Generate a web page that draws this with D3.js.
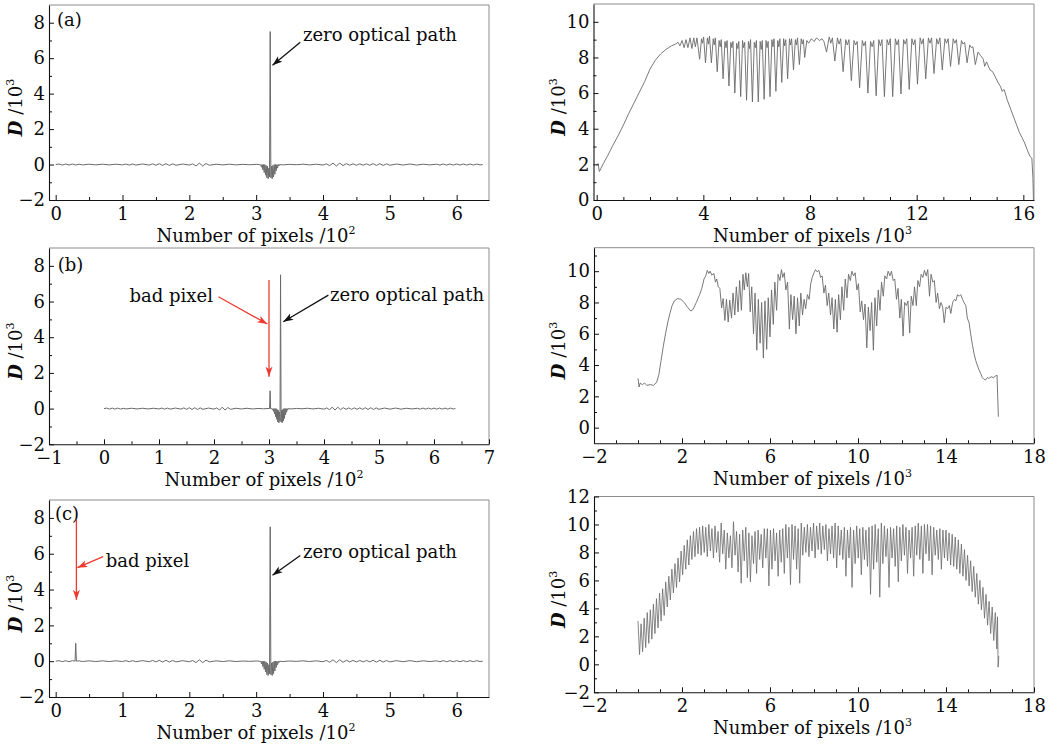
<!DOCTYPE html>
<html><head><meta charset="utf-8">
<script src="https://cdn.jsdelivr.net/npm/d3@7"></script>
<style>
body{margin:0;background:#fff}
svg{display:block}
text{font-family:"DejaVu Serif",serif;fill:#0a0a0a}
</style>
</head><body><svg id="chart" width="1061" height="744"></svg>
<script>
// ---------------- DATA ----------------
// Interferogram (x: Number of pixels /10^2, y: D /10^3)
const interferogram = [
[0.00,0.00],[0.05,0.03],[0.10,-0.03],[0.15,0.03],[0.20,-0.03],[0.25,0.03],[0.30,-0.03],[0.35,0.02],[0.40,-0.02],[0.50,0.02],
[0.60,-0.02],[0.70,0.02],[0.80,-0.02],[0.90,0.02],[1.00,-0.02],[1.05,0.03],[1.10,-0.03],[1.15,0.03],[1.20,-0.03],[1.30,0.03],
[1.40,-0.03],[1.45,0.04],[1.50,-0.04],[1.55,0.05],[1.60,-0.05],[1.65,0.05],[1.70,-0.05],[1.75,0.04],[1.80,-0.04],[1.90,0.03],
[2.00,-0.03],[2.05,0.04],[2.10,-0.08],[2.15,0.08],[2.20,-0.08],[2.25,0.06],[2.30,-0.04],[2.40,0.02],[2.50,-0.02],[2.60,0.02],
[2.70,-0.02],[2.80,0.01],[2.90,-0.01],[3.00,0.01],[3.05,0.00],[3.06,-0.05],[3.07,0.00],[3.08,-0.15],[3.09,0.00],[3.10,-0.30],
[3.11,0.00],[3.12,-0.45],[3.13,0.00],[3.14,-0.60],[3.15,-0.05],[3.16,-0.75],[3.17,-0.10],[3.18,-0.80],[3.19,-0.20],[3.20,-0.70],
[3.21,7.50],[3.22,-0.75],[3.23,-0.10],[3.24,-0.80],[3.25,-0.05],[3.26,-0.70],[3.27,0.00],[3.28,-0.55],[3.29,0.00],[3.30,-0.35],
[3.31,0.00],[3.32,-0.20],[3.33,0.00],[3.34,-0.08],[3.35,0.00],[3.40,-0.02],[3.50,0.01],[3.60,-0.01],[3.70,0.02],[3.80,-0.02],
[3.90,0.02],[4.00,-0.03],[4.05,0.04],[4.10,-0.06],[4.15,0.08],[4.20,-0.08],[4.25,0.08],[4.30,-0.06],[4.35,0.05],[4.40,-0.04],
[4.45,0.04],[4.50,-0.04],[4.55,0.04],[4.60,-0.04],[4.65,0.04],[4.70,-0.04],[4.75,0.05],[4.80,-0.05],[4.85,0.05],[4.90,-0.05],
[4.95,0.04],[5.00,-0.04],[5.10,0.03],[5.20,-0.03],[5.30,0.03],[5.40,-0.03],[5.50,0.02],[5.60,-0.02],[5.70,0.02],[5.75,-0.03],
[5.80,0.03],[5.85,-0.03],[5.90,0.03],[5.95,-0.03],[6.00,0.03],[6.05,-0.03],[6.10,0.03],[6.15,-0.03],[6.20,0.03],[6.25,-0.03],
[6.30,0.03],[6.35,-0.02],[6.39,0.00]
];
const badPixelB = [[3.01,0.00],[3.02,1.00],[3.03,0.00]];
const badPixelC = [[0.29,0.00],[0.30,1.00],[0.31,0.00]];

// Spectra (x: Number of pixels /10^3, y: D /10^3)
const spectrumA = [
[0.00,1.95],[0.05,2.05],[0.10,1.60],[0.15,1.75],[0.25,2.05],[0.40,2.45],[0.60,3.05],[0.80,3.60],[1.00,4.20],[1.20,4.85],
[1.40,5.45],[1.60,6.05],[1.80,6.65],[2.00,7.35],[2.20,7.85],[2.40,8.20],[2.60,8.45],[2.80,8.65],[2.95,8.75],[3.05,8.85],
[3.12,8.65],[3.20,8.95],[3.28,8.55],[3.35,9.00],[3.42,8.55],[3.50,9.10],[3.57,8.50],[3.64,9.10],[3.70,8.60],[3.76,9.10],
[3.86,7.90],[3.93,9.05],[3.97,8.80],[4.01,9.15],[4.08,7.70],[4.15,9.10],[4.19,8.75],[4.23,9.20],[4.30,7.70],[4.37,9.05],
[4.41,8.70],[4.45,9.10],[4.52,7.20],[4.59,8.95],[4.63,8.60],[4.67,9.00],[4.74,6.80],[4.81,8.90],[4.85,8.55],[4.89,8.95],
[4.96,6.40],[5.03,8.85],[5.07,8.55],[5.11,8.90],[5.18,6.00],[5.25,8.80],[5.29,8.50],[5.33,8.90],[5.40,5.80],[5.47,8.95],
[5.51,8.55],[5.55,8.85],[5.62,5.60],[5.69,8.90],[5.73,8.50],[5.77,9.00],[5.84,5.50],[5.91,8.85],[5.95,8.55],[5.99,8.95],
[6.06,5.50],[6.13,8.90],[6.17,8.45],[6.21,8.95],[6.28,5.65],[6.35,8.95],[6.39,8.55],[6.43,8.90],[6.50,5.80],[6.57,9.00],
[6.61,8.60],[6.65,9.05],[6.72,6.10],[6.79,8.95],[6.83,8.60],[6.87,9.05],[6.94,6.60],[7.01,9.05],[7.05,8.65],[7.09,9.00],
[7.16,6.80],[7.23,9.05],[7.27,8.70],[7.31,9.05],[7.38,7.30],[7.45,9.00],[7.49,8.70],[7.53,9.10],[7.60,7.60],[7.67,9.05],
[7.71,8.75],[7.75,9.00],[7.80,8.00],[7.88,8.95],[7.95,8.80],[8.05,9.05],[8.15,8.90],[8.25,9.10],[8.35,8.95],[8.45,9.05],
[8.52,8.90],[8.62,8.30],[8.72,9.15],[8.78,8.80],[8.84,9.10],[8.93,7.80],[9.03,9.10],[9.09,8.75],[9.15,9.05],[9.24,7.20],
[9.34,9.00],[9.40,8.70],[9.46,9.00],[9.55,6.70],[9.65,8.95],[9.71,8.70],[9.77,8.90],[9.86,6.30],[9.96,8.95],[10.02,8.65],
[10.08,8.90],[10.17,6.00],[10.27,8.90],[10.33,8.60],[10.39,8.95],[10.48,5.85],[10.58,9.00],[10.64,8.65],[10.70,9.00],[10.79,5.80],
[10.89,9.00],[10.95,8.70],[11.01,9.05],[11.10,5.80],[11.20,9.05],[11.26,8.70],[11.32,9.00],[11.41,5.95],[11.51,9.00],[11.57,8.75],
[11.63,9.05],[11.72,6.20],[11.82,9.05],[11.88,8.70],[11.94,9.00],[12.03,6.50],[12.13,9.10],[12.19,8.75],[12.25,9.05],[12.34,6.80],
[12.44,9.10],[12.50,8.80],[12.56,9.10],[12.65,7.10],[12.75,9.05],[12.81,8.75],[12.87,9.10],[12.96,7.30],[13.06,9.05],[13.12,8.80],
[13.18,9.05],[13.27,7.50],[13.37,9.05],[13.43,8.80],[13.49,9.00],[13.58,7.60],[13.68,8.95],[13.74,8.75],[13.80,8.85],[13.89,7.70],
[13.99,8.70],[14.05,8.55],[14.11,8.60],[14.20,7.60],[14.30,8.30],[14.40,8.10],[14.50,7.90],[14.55,7.50],[14.62,7.75],[14.75,7.30],
[14.85,7.20],[14.95,6.90],[15.05,6.60],[15.15,6.35],[15.20,6.10],[15.28,6.20],[15.40,5.60],[15.55,5.00],[15.65,4.60],[15.75,4.20],
[15.85,3.80],[15.95,3.50],[16.05,3.20],[16.15,2.80],[16.25,2.45],[16.32,2.35],[16.36,1.20],[16.38,0.00]
];
const spectrumB = [
[0.00,3.15],[0.05,2.60],[0.10,2.85],[0.20,2.75],[0.30,2.85],[0.40,2.70],[0.55,2.75],[0.70,2.70],[0.85,2.90],[0.95,3.40],
[1.05,4.30],[1.15,5.20],[1.25,6.00],[1.35,6.70],[1.45,7.30],[1.55,7.80],[1.65,8.10],[1.80,8.25],[1.95,8.20],[2.10,8.00],
[2.25,7.70],[2.40,7.45],[2.50,7.55],[2.65,8.00],[2.80,8.50],[2.90,8.90],[3.00,9.50],[3.08,9.70],[3.15,10.05],[3.22,9.85],
[3.28,10.00],[3.35,9.75],[3.45,9.85],[3.52,9.30],[3.58,9.50],[3.65,9.00],[3.72,8.90],[3.80,7.65],[3.87,8.25],[3.95,6.85],
[4.02,8.20],[4.10,6.75],[4.17,8.15],[4.25,7.00],[4.32,8.60],[4.40,7.20],[4.47,9.00],[4.55,7.40],[4.62,9.40],[4.70,7.50],
[4.77,9.80],[4.83,8.80],[4.90,9.90],[4.97,9.00],[5.03,9.85],[5.10,7.40],[5.17,9.00],[5.25,6.00],[5.32,8.60],[5.40,4.95],
[5.47,8.20],[5.55,5.40],[5.62,8.00],[5.70,4.45],[5.77,8.10],[5.85,5.00],[5.92,8.30],[6.00,5.80],[6.07,8.80],[6.15,6.60],
[6.22,9.30],[6.30,7.50],[6.37,9.80],[6.45,9.40],[6.52,10.10],[6.58,9.60],[6.65,9.90],[6.72,8.80],[6.80,9.30],[6.88,6.30],
[6.95,8.50],[7.03,6.90],[7.10,8.40],[7.18,6.00],[7.25,8.30],[7.33,6.50],[7.40,8.60],[7.48,7.20],[7.55,8.20],[7.62,7.60],
[7.70,8.50],[7.78,8.20],[7.85,9.20],[7.92,9.60],[8.00,9.90],[8.07,10.10],[8.15,9.95],[8.22,10.05],[8.30,9.60],[8.37,9.70],
[8.45,8.60],[8.52,9.10],[8.60,7.80],[8.67,8.60],[8.75,7.20],[8.82,8.30],[8.90,6.30],[8.97,8.20],[9.05,6.10],[9.12,8.50],
[9.20,6.90],[9.27,9.00],[9.35,7.50],[9.42,9.50],[9.50,8.30],[9.57,9.80],[9.65,9.40],[9.72,10.00],[9.80,9.70],[9.87,9.90],
[9.95,8.80],[10.02,9.20],[10.10,7.40],[10.17,8.10],[10.25,6.90],[10.32,7.90],[10.40,5.10],[10.47,7.70],[10.55,6.20],[10.62,8.00],
[10.70,4.95],[10.77,8.30],[10.85,6.50],[10.92,8.80],[11.00,7.50],[11.07,9.30],[11.15,8.40],[11.22,9.70],[11.30,9.50],[11.37,10.00],
[11.45,9.70],[11.52,10.00],[11.60,9.40],[11.67,9.50],[11.75,8.20],[11.82,8.90],[11.90,7.00],[11.97,8.20],[12.05,5.85],[12.12,8.00],
[12.20,7.80],[12.27,8.10],[12.35,6.05],[12.42,8.40],[12.50,7.80],[12.57,9.00],[12.65,7.80],[12.72,9.40],[12.80,9.00],[12.87,9.80],
[12.95,9.60],[13.02,10.05],[13.10,9.70],[13.17,10.10],[13.25,8.40],[13.32,9.80],[13.40,9.30],[13.47,9.40],[13.55,8.00],[13.62,8.60],
[13.70,7.60],[13.77,8.00],[13.85,7.70],[13.92,6.70],[14.00,7.70],[14.07,7.60],[14.15,7.80],[14.22,7.30],[14.30,8.00],[14.38,8.20],
[14.45,8.10],[14.52,8.50],[14.60,8.40],[14.67,8.50],[14.75,8.20],[14.82,8.00],[14.90,7.80],[14.97,7.00],[15.05,6.70],[15.12,6.00],
[15.20,5.30],[15.28,4.70],[15.35,4.30],[15.42,4.00],[15.50,3.70],[15.58,3.45],[15.65,3.20],[15.72,3.10],[15.80,3.05],[15.88,3.20],
[15.95,3.15],[16.05,3.25],[16.15,3.20],[16.25,3.30],[16.32,3.35],[16.35,2.00],[16.38,0.70]
];
const spectrumC = [
[0.00,3.1],[0.07,0.7],[0.14,2.9],[0.21,0.9],[0.28,3.3],[0.35,1.2],[0.42,3.7],[0.49,1.5],[0.56,3.9],[0.63,1.8],
[0.70,4.3],[0.77,2.2],[0.84,4.7],[0.91,2.6],[0.98,5.1],[1.05,3.1],[1.12,5.4],[1.19,3.5],[1.26,5.9],[1.33,4.1],
[1.40,6.3],[1.47,4.6],[1.54,6.8],[1.61,5.1],[1.68,7.2],[1.75,5.5],[1.82,7.6],[1.89,5.9],[1.96,8.1],[2.03,6.4],
[2.10,8.5],[2.17,6.8],[2.24,8.9],[2.31,7.1],[2.38,9.2],[2.45,7.5],[2.52,9.5],[2.59,7.7],[2.66,9.7],[2.73,7.9],
[2.80,9.8],[2.87,7.8],[2.94,9.9],[3.01,8.0],[3.08,9.8],[3.15,7.7],[3.22,10.0],[3.29,8.1],[3.36,9.7],[3.43,7.6],
[3.50,9.9],[3.57,8.0],[3.64,9.5],[3.71,7.3],[3.78,10.1],[3.85,7.9],[3.92,9.6],[3.99,6.8],[4.06,9.4],[4.13,7.6],
[4.20,9.2],[4.27,6.9],[4.34,10.2],[4.41,7.8],[4.48,9.5],[4.55,6.6],[4.62,9.3],[4.69,5.8],[4.76,9.6],[4.83,7.4],
[4.90,9.8],[4.97,6.2],[5.04,9.4],[5.11,5.9],[5.18,9.2],[5.25,7.2],[5.32,9.5],[5.39,6.5],[5.46,9.6],[5.53,7.5],
[5.60,9.3],[5.67,6.9],[5.74,9.7],[5.81,7.6],[5.88,9.7],[5.95,5.6],[6.02,9.6],[6.09,6.8],[6.16,9.7],[6.23,7.4],
[6.30,9.4],[6.37,6.3],[6.44,9.6],[6.51,7.3],[6.58,9.7],[6.65,6.5],[6.72,10.0],[6.79,7.6],[6.86,9.8],[6.93,5.7],
[7.00,10.0],[7.07,7.5],[7.14,9.9],[7.21,6.8],[7.28,9.7],[7.35,5.8],[7.42,10.1],[7.49,7.8],[7.56,9.8],[7.63,8.0],
[7.70,10.0],[7.77,7.7],[7.84,9.8],[7.91,8.1],[7.98,10.1],[8.05,7.6],[8.12,9.9],[8.19,8.2],[8.26,10.1],[8.33,7.9],
[8.40,9.9],[8.47,8.2],[8.54,10.0],[8.61,7.4],[8.68,9.7],[8.75,7.9],[8.82,9.9],[8.89,7.6],[8.96,10.1],[9.03,6.9],
[9.10,9.9],[9.17,7.8],[9.24,9.6],[9.31,7.5],[9.38,9.8],[9.45,6.3],[9.52,9.6],[9.59,7.6],[9.66,9.8],[9.73,5.5],
[9.80,9.6],[9.87,7.2],[9.94,9.9],[10.01,7.6],[10.08,9.7],[10.15,6.4],[10.22,9.8],[10.29,7.5],[10.36,9.6],[10.43,7.0],
[10.50,9.8],[10.57,5.0],[10.64,9.9],[10.71,6.8],[10.78,10.0],[10.85,7.3],[10.92,9.7],[10.99,4.8],[11.06,10.1],[11.13,7.2],
[11.20,9.9],[11.27,7.7],[11.34,9.7],[11.41,5.5],[11.48,9.8],[11.55,7.6],[11.62,9.7],[11.69,7.0],[11.76,9.9],[11.83,5.9],
[11.90,9.8],[11.97,7.4],[12.04,10.0],[12.11,7.8],[12.18,9.8],[12.25,6.5],[12.32,9.6],[12.39,7.6],[12.46,9.8],[12.53,6.3],
[12.60,9.9],[12.67,7.8],[12.74,10.1],[12.81,7.5],[12.88,9.9],[12.95,6.5],[13.02,10.0],[13.09,7.9],[13.16,10.0],[13.23,7.4],
[13.30,9.9],[13.37,6.4],[13.44,9.8],[13.51,7.8],[13.58,9.6],[13.65,7.5],[13.72,9.7],[13.79,6.8],[13.86,9.6],[13.93,7.6],
[14.00,9.6],[14.07,7.4],[14.14,9.4],[14.21,7.1],[14.28,9.3],[14.35,7.0],[14.42,9.1],[14.49,6.8],[14.56,8.9],[14.63,6.5],
[14.70,8.6],[14.77,6.3],[14.84,8.2],[14.91,6.0],[14.98,7.8],[15.05,5.6],[15.12,7.4],[15.19,5.2],[15.26,7.0],[15.33,4.8],
[15.40,6.5],[15.47,4.3],[15.54,6.0],[15.61,3.9],[15.68,5.5],[15.75,3.3],[15.82,5.0],[15.89,2.8],[15.96,4.5],[16.03,2.2],
[16.10,4.1],[16.17,1.7],[16.24,3.7],[16.31,1.1],[16.34,3.4],[16.37,-0.2],[16.40,0.6]
];

// Tick values
const leftXMajorAC = [0,1,2,3,4,5,6];
const leftXMinorAC = [0.5,1.5,2.5,3.5,4.5,5.5];
const leftXMajorB = [-1,0,1,2,3,4,5,6,7];
const leftXMinorB = [-0.5,0.5,1.5,2.5,3.5,4.5,5.5,6.5];
const leftYMajor = [-2,0,2,4,6,8];
const leftYMinor = [-1,1,3,5,7];
const rightXMajorA = [0,4,8,12,16];
const rightXMinorA = [1,2,3,5,6,7,9,10,11,13,14,15];
const rightXMajorBC = [-2,2,6,10,14,18];
const rightXMinorBC = [-1,0,1,3,4,5,7,8,9,11,12,13,15,16,17];
const rightYMajorA = [0,2,4,6,8,10];
const rightYMinorA = [1,3,5,7,9];
const rightYMajorB = [0,2,4,6,8,10];
const rightYMinorB = [1,3,5,7,9,11];
const rightYMajorC = [-2,0,2,4,6,8,10,12];
const rightYMinorC = [-1,1,3,5,7,9,11];

// Annotation texts
const panelLabels = ["(a)","(b)","(c)"];
const zeroPathText = "zero optical path";
const badPixelText = "bad pixel";

// ---------------- DRAW ----------------
const svg = d3.select("#chart");
const defs = svg.append("defs");
function marker(id, color){
  defs.append("marker").attr("id",id).attr("markerUnits","userSpaceOnUse")
    .attr("markerWidth",11).attr("markerHeight",8).attr("refX",10).attr("refY",4)
    .attr("orient","auto")
    .append("path").attr("d","M0,0.5L10,4L0,7.5L2.5,4Z").attr("fill",color);
}
marker("arrBlack","#111");
marker("arrRed","#ee3a30");

function mergeBad(base, bad){
  const [lo,hi] = d3.extent(bad, d=>d[0]);
  return base.filter(d=>d[0]<lo||d[0]>hi).concat(bad).sort((a,b)=>a[0]-b[0]);
}
const fmt = d => d<0 ? "\u2212"+Math.abs(d) : String(d);

function panel(p){
  const g = svg.append("g");
  const x = d3.scaleLinear().domain(p.xd).range([p.l,p.r]);
  const y = d3.scaleLinear().domain(p.yd).range([p.b,p.t]);
  g.append("path").attr("d",`M${p.l},${p.t}H${p.r}V${p.b}`).attr("fill","none")
    .attr("stroke","#8c8c8c").attr("stroke-width",1);
  g.append("path").datum(p.data)
    .attr("d", d3.line().x(d=>x(d[0])).y(d=>y(d[1])))
    .attr("fill","none").attr("stroke","#6a6a6a").attr("stroke-width",p.sw||1)
    .attr("stroke-linejoin","round");
  g.append("g").attr("transform",`translate(0,${p.b})`)
    .call(d3.axisBottom(x).tickValues(p.xMajor).tickSize(-5).tickSizeOuter(0).tickPadding(7).tickFormat(fmt));
  g.append("g").attr("transform",`translate(0,${p.b})`)
    .call(d3.axisBottom(x).tickValues(p.xMinor).tickSize(-3).tickSizeOuter(0).tickFormat(""))
    .call(s=>s.select(".domain").remove());
  g.append("g").attr("transform",`translate(${p.l},0)`)
    .call(d3.axisLeft(y).tickValues(p.yMajor).tickSize(-5).tickSizeOuter(0).tickPadding(4).tickFormat(fmt));
  g.append("g").attr("transform",`translate(${p.l},0)`)
    .call(d3.axisLeft(y).tickValues(p.yMinor).tickSize(-3).tickSizeOuter(0).tickFormat(""))
    .call(s=>s.select(".domain").remove());
  g.selectAll(".domain").attr("stroke","#111").attr("stroke-width",1.1);
  g.selectAll(".tick line").attr("stroke","#111");
  g.selectAll(".tick text").attr("font-size",18).style("font-family","DejaVu Serif").attr("fill","#0a0a0a");
  const xt = g.append("text").attr("x",p.xtc).attr("y",p.b+41.5).attr("text-anchor","middle").attr("font-size",18);
  xt.append("tspan").text("Number of pixels /10");
  xt.append("tspan").attr("font-size",11).attr("dy",-8).text(p.exp);
  const yt = g.append("text").attr("transform",`translate(${p.ytx},${(p.t+p.b)/2+5}) rotate(-90)`)
    .attr("text-anchor","middle").attr("font-size",18);
  yt.append("tspan").attr("font-style","italic").attr("font-weight","bold").text("D");
  yt.append("tspan").text(" /10");
  yt.append("tspan").attr("font-size",11).attr("dy",-8).text("3");
  return {g,x,y};
}

function arrow(P, x1,y1,x2,y2,color,id){
  P.g.append("line").attr("x1",P.x(x1)).attr("y1",P.y(y1)).attr("x2",P.x(x2)).attr("y2",P.y(y2))
    .attr("stroke",color).attr("stroke-width",1.3).attr("marker-end",`url(#${id})`);
}
function label(P, txt, x, y, anchor){
  P.g.append("text").attr("x",P.x(x)).attr("y",P.y(y)).attr("text-anchor",anchor||"start")
    .attr("font-size",18).text(txt);
}

const RED="#ee3a30", BLK="#111";

const A = panel({l:49,r:489,t:5,b:200,xd:[-0.1,6.484],yd:[-2,9],data:interferogram,
  xMajor:leftXMajorAC,xMinor:leftXMinorAC,yMajor:leftYMajor,yMinor:leftYMinor,exp:"2",xtc:256,ytx:21.5});
const B = panel({l:49,r:489,t:248,b:444.3,xd:[-1,7],yd:[-2,9],data:mergeBad(interferogram,badPixelB),
  xMajor:leftXMajorB,xMinor:leftXMinorB,yMajor:leftYMajor,yMinor:leftYMinor,exp:"2",xtc:264,ytx:21.5});
const C = panel({l:49,r:489,t:500,b:697,xd:[-0.1,6.484],yd:[-2,9],data:mergeBad(interferogram,badPixelC),
  xMajor:leftXMajorAC,xMinor:leftXMinorAC,yMajor:leftYMajor,yMinor:leftYMinor,exp:"2",xtc:256,ytx:21.5});
panel({l:593.5,r:1034,t:4,b:200,xd:[-0.12,16.4],yd:[0,11],data:spectrumA,
  xMajor:rightXMajorA,xMinor:rightXMinorA,yMajor:rightYMajorA,yMinor:rightYMinorA,exp:"3",xtc:812.5,ytx:564.5,sw:0.9});
panel({l:594,r:1034,t:247.7,b:443.3,xd:[-2,18],yd:[-1,11.5],data:spectrumB,
  xMajor:rightXMajorBC,xMinor:rightXMinorBC,yMajor:rightYMajorB,yMinor:rightYMinorB,exp:"3",xtc:812.5,ytx:564.5,sw:0.9});
panel({l:594,r:1034,t:496.5,b:692.3,xd:[-2,18],yd:[-2,12],data:spectrumC,
  xMajor:rightXMajorBC,xMinor:rightXMinorBC,yMajor:rightYMajorC,yMinor:rightYMinorC,exp:"3",xtc:812.5,ytx:564.5,sw:0.8});

label(A, panelLabels[0], 0.02, 7.8);
label(B, panelLabels[1], -0.84, 7.7);
label(C, panelLabels[2], -0.01, 7.9);

label(A, zeroPathText, 3.70, 6.95);
arrow(A, 3.66, 6.9, 3.245, 5.6, BLK, "arrBlack");
label(B, zeroPathText, 4.11, 6.05);
arrow(B, 4.08, 6.36, 3.26, 4.87, BLK, "arrBlack");
label(B, badPixelText, 1.98, 5.95, "end");
arrow(B, 2.08, 6.27, 2.97, 4.74, RED, "arrRed");
arrow(B, 3.0, 7.2, 3.0, 1.79, RED, "arrRed");
label(C, zeroPathText, 3.70, 5.75);
arrow(C, 3.66, 5.9, 3.245, 4.8, BLK, "arrBlack");
label(C, badPixelText, 0.75, 5.25);
arrow(C, 0.71, 5.84, 0.325, 5.22, RED, "arrRed");
arrow(C, 0.31, 7.9, 0.31, 3.42, RED, "arrRed");
</script>
</body></html>
